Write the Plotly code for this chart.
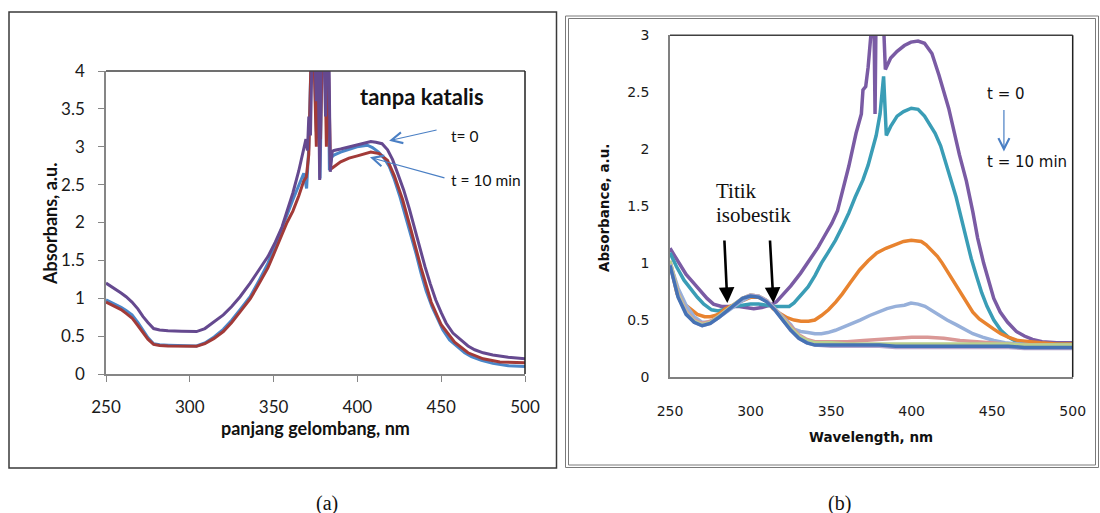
import plotly.graph_objects as go

# ---------------- Panel (a): tanpa katalis ----------------
a_purple_wl = [250, 255, 259, 262, 265.5, 269, 272, 275, 278.4, 282, 287, 295, 304, 309, 314.5, 320, 325, 330, 336, 341,
               346.6, 351, 355, 358, 361.5, 365, 367.9, 369.3, 370.2, 371, 372, 373, 374.5, 375.5, 376.5, 377.5, 378.5,
               380, 381, 382, 383, 383.8, 385, 386, 390, 395, 399.8, 404, 408, 411, 414.7, 418, 421, 424, 427.6, 431,
               433.8, 437, 440.3, 443.5, 446.7, 450, 453, 457, 461.6, 466, 470, 475, 480.8, 490, 500]
a_purple_abs = [1.20, 1.13, 1.07, 1.02, 0.95, 0.86, 0.76, 0.68, 0.60, 0.58, 0.57, 0.565, 0.56, 0.60, 0.69, 0.78, 0.89,
                1.02, 1.20, 1.37, 1.55, 1.74, 1.94, 2.15, 2.39, 2.68, 2.96, 3.1, 2.95, 3.4, 3.15, 4.3, 4.3, 3.6, 4.3,
                2.56, 4.3, 4.3, 3.4, 4.3, 4.3, 2.67, 2.94, 2.95, 2.97, 3.0, 3.02, 3.05, 3.07, 3.06, 3.04, 2.96, 2.83,
                2.65, 2.43, 2.18, 1.94, 1.67, 1.42, 1.19, 0.98, 0.81, 0.67, 0.54, 0.45, 0.37, 0.32, 0.28, 0.25, 0.22, 0.2]

a_blue_wl = [250, 255, 259, 262, 265.5, 269, 272, 275, 278.4, 282, 287, 295, 304, 309, 314.5, 320, 325, 330, 336, 341,
             346.6, 351, 355, 358, 361.5, 365, 368, 369.7, 371, 372.5, 374, 375.5, 376.5, 377.7, 379, 380.5, 381.5,
             382.5, 383.3, 384.5, 386, 390, 395, 399.8, 406, 409, 412.6, 416, 419, 422, 425.4, 428.5, 431.8, 435, 438,
             441, 444.5, 448, 451, 455, 459.5, 464, 468, 474, 480.8, 490, 500]
a_blue_abs = [0.98, 0.93, 0.88, 0.84, 0.78, 0.68, 0.58, 0.48, 0.40, 0.385, 0.38, 0.375, 0.37, 0.41, 0.49, 0.59, 0.71,
              0.85, 1.02, 1.22, 1.46, 1.70, 1.94, 2.1, 2.30, 2.5, 2.65, 2.45, 3.0, 4.3, 4.3, 3.2, 4.3, 2.58, 4.3, 4.3,
              3.5, 4.3, 2.69, 2.86, 2.89, 2.93, 2.97, 3.0, 3.02, 2.99, 2.93, 2.85, 2.74, 2.57, 2.34, 2.1, 1.86, 1.59,
              1.33, 1.1, 0.89, 0.72, 0.58, 0.45, 0.36, 0.28, 0.23, 0.18, 0.14, 0.11, 0.1]

a_red_wl = [250, 255, 259, 262, 265.5, 269, 272, 275, 278.4, 282, 287, 295, 304, 309, 314.5, 320, 325, 330, 336, 341,
            346.6, 351, 355, 358, 361.5, 365, 368, 369.5, 371, 372.5, 374, 375.5, 376.5, 378, 379, 380.5, 381.5, 382.5,
            384, 385, 390, 395, 400, 404, 408, 413, 418, 422, 427, 432, 438, 444, 450, 458, 466, 475, 485, 500]
a_red_abs = [0.95, 0.9, 0.85, 0.8, 0.74, 0.64, 0.55, 0.46, 0.39, 0.375, 0.37, 0.37, 0.365, 0.4, 0.47, 0.56, 0.68, 0.82,
             0.99, 1.18, 1.4, 1.63, 1.85, 2.0, 2.15, 2.35, 2.55, 2.6, 2.9, 4.3, 4.3, 3.0, 4.3, 3.1, 4.3, 4.3, 3.0, 4.3,
             2.7, 2.72, 2.8, 2.85, 2.88, 2.91, 2.93, 2.91, 2.82, 2.62, 2.3, 1.9, 1.4, 0.95, 0.65, 0.42, 0.28, 0.2,
             0.16, 0.15]

a_x_ticks = [250, 300, 350, 400, 450, 500]
a_y_ticks = [0, 0.5, 1, 1.5, 2, 2.5, 3, 3.5, 4]

# ---------------- Panel (b): with catalyst, t = 0 ... 10 min ----------------
b_purple_wl = [250, 255, 260, 265, 269, 273, 277, 282, 287, 292, 297, 302, 307, 312, 316, 320.8, 325, 331, 336, 342,
               346, 350.5, 354, 357, 361, 365.5, 368.8, 369.8, 371.5, 373, 375, 376.5, 377.3, 378, 380, 382, 383.7,
               387, 391, 395.5, 399.6, 404, 408, 412.6, 417, 423, 429.7, 434, 438, 441, 444.7, 448, 451, 455, 459.6,
               465, 470, 475, 481, 490, 500]
b_purple_abs = [1.13, 1.02, 0.9, 0.82, 0.75, 0.69, 0.64, 0.62, 0.62, 0.62, 0.61, 0.60, 0.61, 0.63, 0.66, 0.73, 0.8,
                0.91, 1.01, 1.14, 1.24, 1.35, 1.46, 1.62, 1.85, 2.14, 2.31, 2.52, 2.55, 2.72, 3.05, 3.3, 2.31, 3.3,
                3.3, 3.3, 2.7, 2.8, 2.86, 2.91, 2.94, 2.95, 2.93, 2.84, 2.65, 2.36, 1.95, 1.72, 1.45, 1.22, 1.0, 0.84,
                0.69, 0.57, 0.48, 0.4, 0.36, 0.33, 0.31, 0.30, 0.30]

b_teal_wl = [250, 254, 258.7, 263, 267, 271, 275.8, 280, 285, 290, 295, 300, 305, 310, 315, 320, 324, 327, 331, 335.7,
             340, 344, 348, 352.7, 357, 361, 365, 369.8, 373, 376, 378, 380.4, 381.5, 382.6, 384.3, 387, 391, 395,
             399.8, 404, 408, 411, 414.6, 418, 421, 424, 427.6, 431, 434, 437, 440.4, 443.5, 446.8, 451, 455.4, 460,
             463.9, 468, 472, 480, 490, 500]
b_teal_abs = [1.09, 0.97, 0.85, 0.77, 0.70, 0.64, 0.59, 0.58, 0.6, 0.62, 0.63, 0.64, 0.64, 0.63, 0.62, 0.62, 0.62,
              0.65, 0.71, 0.79, 0.89, 1.0, 1.09, 1.2, 1.32, 1.44, 1.58, 1.73, 1.86, 2.02, 2.12, 2.31, 2.45, 2.64, 2.12,
              2.2, 2.29, 2.33, 2.36, 2.35, 2.29, 2.22, 2.14, 2.03, 1.9, 1.75, 1.58, 1.39, 1.2, 1.04, 0.88, 0.74, 0.62,
              0.5, 0.41, 0.35, 0.32, 0.31, 0.30, 0.29, 0.29, 0.29]

b_orange_wl = [250, 254.4, 258, 263, 267, 271.5, 275, 278, 281, 284.3, 290, 295, 300, 305, 310, 314, 318, 322.7, 327,
               331.3, 336, 339.9, 344, 348.4, 353, 357, 362, 367.7, 373, 378.4, 384, 389, 395, 399.8, 406, 409, 412.6,
               416, 419, 422, 425.4, 428.5, 431.8, 435, 438, 442, 446.8, 451, 455.4, 460, 466, 472, 480, 490, 500]
b_orange_abs = [1.0, 0.73, 0.65, 0.59, 0.55, 0.53, 0.53, 0.54, 0.56, 0.6, 0.64, 0.67, 0.7, 0.7, 0.67, 0.6, 0.56, 0.52,
                0.5, 0.49, 0.49, 0.5, 0.54, 0.59, 0.66, 0.73, 0.83, 0.94, 1.02, 1.09, 1.13, 1.16, 1.19, 1.2, 1.19, 1.16,
                1.11, 1.06, 1.0, 0.93, 0.85, 0.78, 0.71, 0.64, 0.57, 0.51, 0.46, 0.42, 0.38, 0.35, 0.32, 0.31, 0.30,
                0.29, 0.29]

b_lightblue_wl = [250, 255, 260, 265, 270, 275, 280, 285, 290, 295, 300, 305, 310, 315, 320, 325, 327, 331, 335.6, 340,
                  344, 348, 352.7, 358, 363, 368, 374, 379, 384.7, 390, 395.5, 399.6, 404, 408.3, 413, 417, 422, 427.6,
                  433, 438, 444, 451, 458, 466, 475, 485, 500]
b_lightblue_abs = [1.0, 0.78, 0.63, 0.53, 0.48, 0.48, 0.52, 0.57, 0.62, 0.67, 0.71, 0.71, 0.67, 0.6, 0.52, 0.46, 0.42,
                   0.4, 0.39, 0.38, 0.38, 0.39, 0.41, 0.44, 0.47, 0.5, 0.54, 0.57, 0.6, 0.62, 0.63, 0.65, 0.64, 0.62,
                   0.58, 0.54, 0.5, 0.46, 0.42, 0.38, 0.35, 0.32, 0.3, 0.29, 0.28, 0.28, 0.28]

b_late_wl = [250, 255, 260, 265, 270, 275, 280, 285, 290, 295, 300, 305, 310, 315, 320, 325, 330, 335, 340, 350, 360,
             370, 380, 390, 400, 410, 420, 430, 440, 450, 460, 470, 480, 490, 500]
b_pink_abs = [1.02, 0.74, 0.58, 0.5, 0.47, 0.49, 0.53, 0.59, 0.64, 0.69, 0.72, 0.71, 0.67, 0.6, 0.52, 0.44, 0.37, 0.33,
              0.31, 0.31, 0.31, 0.32, 0.33, 0.34, 0.35, 0.35, 0.34, 0.32, 0.31, 0.3, 0.29, 0.28, 0.28, 0.27, 0.27]
b_green_abs = [1.02, 0.73, 0.57, 0.49, 0.46, 0.48, 0.53, 0.59, 0.64, 0.69, 0.72, 0.71, 0.67, 0.6, 0.51, 0.43, 0.36,
               0.32, 0.3, 0.3, 0.29, 0.29, 0.29, 0.29, 0.29, 0.29, 0.29, 0.29, 0.29, 0.29, 0.29, 0.28, 0.28, 0.28, 0.28]
b_lavender_abs = [0.99, 0.71, 0.56, 0.48, 0.45, 0.47, 0.52, 0.58, 0.64, 0.69, 0.72, 0.71, 0.67, 0.6, 0.5, 0.41, 0.34,
                  0.3, 0.28, 0.27, 0.27, 0.27, 0.27, 0.26, 0.26, 0.26, 0.26, 0.26, 0.26, 0.26, 0.26, 0.25, 0.25, 0.25,
                  0.25]
b_blue_abs = [0.98, 0.70, 0.55, 0.48, 0.45, 0.47, 0.52, 0.58, 0.64, 0.69, 0.71, 0.7, 0.66, 0.59, 0.5, 0.41, 0.34, 0.3,
              0.28, 0.28, 0.28, 0.28, 0.28, 0.27, 0.27, 0.27, 0.27, 0.27, 0.27, 0.27, 0.27, 0.26, 0.26, 0.26, 0.26]

b_x_ticks = [250, 300, 350, 400, 450, 500]
b_y_ticks = [0, 0.5, 1, 1.5, 2, 2.5, 3]

W, H = 1100, 513


def px(x):
    return x / W


def py(y):
    return 1 - y / H


fig = go.Figure()

# panel (a) traces
for wl, ab, col in [(a_blue_wl, a_blue_abs, "#4A86C8"),
                    (a_red_wl, a_red_abs, "#A23A38"),
                    (a_purple_wl, a_purple_abs, "#65498F")]:
    fig.add_trace(go.Scatter(x=wl, y=ab, mode="lines", line=dict(color=col, width=3),
                             xaxis="x", yaxis="y", showlegend=False, hoverinfo="skip"))

# panel (b) traces
b_series = [(b_purple_wl, b_purple_abs, "#7A5BA4"),
            (b_teal_wl, b_teal_abs, "#3A9DB6"),
            (b_orange_wl, b_orange_abs, "#E8832F"),
            (b_lightblue_wl, b_lightblue_abs, "#97B0DA"),
            (b_late_wl, b_pink_abs, "#DA9896"),
            (b_late_wl, b_green_abs, "#B9D08E"),
            (b_late_wl, b_lavender_abs, "#B5A5CC"),
            (b_late_wl, b_blue_abs, "#4672B4")]
for wl, ab, col in b_series:
    fig.add_trace(go.Scatter(x=wl, y=ab, mode="lines", line=dict(color=col, width=3.5),
                             xaxis="x2", yaxis="y2", showlegend=False, hoverinfo="skip"))

fontA = "Lato, 'Open Sans', sans-serif"
fontB = "'DejaVu Sans', Verdana, sans-serif"
serif = "'Liberation Serif', 'Times New Roman', serif"

fig.update_layout(
    template="none",
    width=W, height=H, margin=dict(l=0, r=0, t=0, b=0, pad=0, autoexpand=False),
    paper_bgcolor="white", plot_bgcolor="white",
    xaxis=dict(domain=[px(106), px(525)], range=[250, 500], anchor="y", automargin=False,
               tickvals=a_x_ticks, ticks="outside", ticklen=6, tickcolor="#868686",
               showline=True, linecolor="#868686", linewidth=1.5, showgrid=False, zeroline=False,
               tickfont=dict(family=fontA, size=17, color="#1a1a1a"), ticklabelstandoff=11),
    yaxis=dict(domain=[py(374), py(71)], range=[0, 4], anchor="x", automargin=False,
               tickvals=a_y_ticks, ticks="outside", ticklen=6, tickcolor="#868686",
               showline=True, linecolor="#868686", linewidth=1.5, showgrid=False, zeroline=False,
               tickfont=dict(family=fontA, size=17, color="#1a1a1a"), ticklabelstandoff=10),
    xaxis2=dict(domain=[px(670), px(1072.7)], range=[250, 500], anchor="y2", automargin=False,
                tickvals=b_x_ticks, ticks="",
                showline=True, linecolor="#808080", linewidth=1.5, showgrid=False, zeroline=False,
                tickfont=dict(family=fontB, size=14, color="#1a1a1a"), ticklabelstandoff=20),
    yaxis2=dict(domain=[py(377), py(35.3)], range=[0, 3], anchor="x2", automargin=False,
                tickvals=b_y_ticks, ticks="",
                showline=True, linecolor="#808080", linewidth=1.5, showgrid=False, zeroline=False,
                tickfont=dict(family=fontB, size=14, color="#1a1a1a"), ticklabelstandoff=16),
)

shapes = [
    # panel (a) outer frame
    dict(type="rect", xref="paper", yref="paper", x0=px(9), x1=px(556.5), y0=py(468), y1=py(12),
         line=dict(color="#3a3a3a", width=1.5)),
    # panel (b) double frame
    dict(type="rect", xref="paper", yref="paper", x0=px(565.5), x1=px(1098.5), y0=py(467.5), y1=py(16),
         line=dict(color="#7a7a7a", width=1)),
    dict(type="rect", xref="paper", yref="paper", x0=px(568.5), x1=px(1095.5), y0=py(465), y1=py(18.5),
         line=dict(color="#7a7a7a", width=1)),
    # plot-area top/right borders
    dict(type="line", xref="x domain", yref="y domain", x0=0, x1=1, y0=1, y1=1, line=dict(color="#404040", width=1.5)),
    dict(type="line", xref="x domain", yref="y domain", x0=1, x1=1, y0=0, y1=1, line=dict(color="#202020", width=1.5)),
    dict(type="line", xref="x2 domain", yref="y2 domain", x0=0, x1=1, y0=1, y1=1, line=dict(color="#404040", width=1.5)),
    dict(type="line", xref="x2 domain", yref="y2 domain", x0=1, x1=1, y0=0, y1=1, line=dict(color="#202020", width=1.5)),
]
fig.update_layout(shapes=shapes)

ann = [
    # panel (a) texts
    dict(text="<b>panjang gelombang, nm</b>", x=px(315), y=py(428), font=dict(family=fontA, size=18, color="#111")),
    dict(text="<b>Absorbans, a.u.</b>", x=px(50), y=py(224), textangle=-90, font=dict(family=fontA, size=18, color="#111")),
    dict(text="<b>tanpa katalis</b>", x=px(358), y=py(96), xanchor="left", font=dict(family=fontA, size=22, color="#111")),
    dict(text="t= 0", x=px(449), y=py(136), xanchor="left", font=dict(family=fontA, size=15.5, color="#111")),
    dict(text="t = 10 min", x=px(449), y=py(180), xanchor="left", font=dict(family=fontA, size=15.5, color="#111")),
    # panel (b) texts
    dict(text="<b>Wavelength, nm</b>", x=px(871), y=py(437), font=dict(family=fontB, size=13.5, color="#111")),
    dict(text="<b>Absorbance, a.u.</b>", x=px(604), y=py(208), textangle=-90, font=dict(family=fontB, size=13.5, color="#111")),
    dict(text="Titik", x=px(714), y=py(191), xanchor="left", font=dict(family=serif, size=21, color="#111")),
    dict(text="isobestik", x=px(714), y=py(215), xanchor="left", font=dict(family=serif, size=21, color="#111")),
    dict(text="t = 0", x=px(985), y=py(94), xanchor="left", font=dict(family=fontB, size=15, color="#111")),
    dict(text="t = 10 min", x=px(985), y=py(162), xanchor="left", font=dict(family=fontB, size=15, color="#111")),
    # captions
    dict(text="(a)", x=px(327), y=py(503), font=dict(family=serif, size=20, color="#111")),
    dict(text="(b)", x=px(839), y=py(503), font=dict(family=serif, size=20, color="#111")),
]
for a in ann:
    a.setdefault("xref", "paper")
    a.setdefault("yref", "paper")
    a.setdefault("xanchor", "center")
    a.setdefault("yanchor", "middle")
    a["showarrow"] = False
    fig.add_annotation(**a)

# arrows
arrows = [
    # (a) blue pointer arrows
    dict(x=418.9, y=3.08, xref="x", yref="y", ax=49, ay=-11, arrowcolor="#4A7FC4", arrowwidth=1.2, arrowhead=5, arrowsize=1.8),
    dict(x=407.5, y=2.86, xref="x", yref="y", ax=76, ay=21, arrowcolor="#4A7FC4", arrowwidth=1.2, arrowhead=5, arrowsize=1.8),
    # (b) blue downward arrow
    dict(x=457.3, y=1.98, xref="x2", yref="y2", ax=0, ay=-43, arrowcolor="#4A7FC4", arrowwidth=1.2, arrowhead=5, arrowsize=1.8),
    # (b) isosbestic arrows
    dict(x=285.6, y=0.65, xref="x2", yref="y2", ax=-3, ay=-64, arrowcolor="#000000", arrowwidth=2.6, arrowhead=2, arrowsize=1.2),
    dict(x=314.2, y=0.65, xref="x2", yref="y2", ax=-3.5, ay=-64, arrowcolor="#000000", arrowwidth=2.6, arrowhead=2, arrowsize=1.2),
]
for a in arrows:
    fig.add_annotation(text="", showarrow=True, standoff=0, **a)

fig.write_html("out.html")
